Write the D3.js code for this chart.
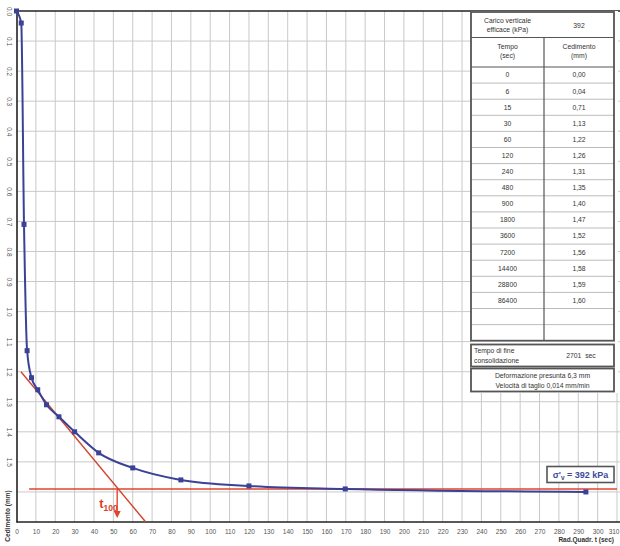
<!DOCTYPE html>
<html>
<head>
<meta charset="utf-8">
<script src="https://cdn.jsdelivr.net/npm/d3@7"></script>
<style>
  html, body { margin: 0; padding: 0; background: #fff; }
  svg { display: block; font-family: "Liberation Sans", Arial, sans-serif; }
</style>
</head>
<body>
<svg id="chart" width="620" height="546"></svg>
<script>
// Consolidation readings at 392 kPa: elapsed time (s) and settlement (mm)
const tempoSec = [0, 6, 15, 30, 60, 120, 240, 480, 900, 1800, 3600, 7200, 14400, 28800, 86400];
const cedimentoMm = [0.00, 0.04, 0.71, 1.13, 1.22, 1.26, 1.31, 1.35, 1.40, 1.47, 1.52, 1.56, 1.58, 1.59, 1.60];
const caricoKPa = 392;
const tFineSec = 2701;

// Construction lines (root-time abscissa, settlement ordinate)
const tangente = [[2.3, 1.20], [66.7, 1.70]];
const cedimentoFinale = 1.59;
const orizzontaleX = [6.5, 310];

// Axis ticks
const xTicks = d3.range(0, 311, 10);
const yTicks = d3.range(0, 1.71, 0.1).map(v => +v.toFixed(1));
const yLabelTicks = yTicks.filter(v => v <= 1.5);

const svg = d3.select("#chart");
const x = d3.scaleLinear().domain([0, 310]).range([16.5, 617]);
const y = d3.scaleLinear().domain([0, 1.7]).range([11, 522]);

const blu = "#3b4196";
const rosso = "#e0452b";

// grid
svg.append("g").selectAll("line").data(xTicks.filter(d => d > 0)).join("line")
  .attr("x1", d => x(d)).attr("x2", d => x(d)).attr("y1", y(0)).attr("y2", y(1.7))
  .attr("stroke", "#c9c9c9").attr("stroke-width", 1);
svg.append("g").selectAll("line").data(yTicks.filter(d => d > 0 && d < 1.7)).join("line")
  .attr("x1", x(0)).attr("x2", 620).attr("y1", d => y(d)).attr("y2", d => y(d))
  .attr("stroke", "#c9c9c9").attr("stroke-width", 1);

// x axis
const xAxis = svg.append("g").attr("transform", `translate(0,${y(1.7)})`)
  .call(d3.axisBottom(x).tickValues(xTicks).tickSize(0).tickPadding(7).tickFormat(d3.format("d")));
xAxis.select(".domain").attr("stroke", "#222").attr("stroke-width", 1.6).attr("d", `M${x(0)},0H620`);
xAxis.selectAll("text").attr("font-size", 6.5).attr("fill", "#555").attr("font-family", "Liberation Sans, Arial, sans-serif");
// keep the last label inside the page edge
xAxis.selectAll(".tick").filter(d => d === 310).select("text")
  .attr("text-anchor", "end").attr("x", 619 - x(310));

// y axis with rotated labels
const yAxis = svg.append("g").attr("transform", `translate(${x(0)},0)`)
  .call(d3.axisLeft(y).tickValues(yLabelTicks).tickSize(0).tickPadding(0).tickFormat(d3.format(".1f")));
yAxis.select(".domain").attr("stroke", "#222").attr("stroke-width", 1.6);
yAxis.selectAll("text")
  .attr("font-size", 6.5).attr("fill", "#555").attr("font-family", "Liberation Sans, Arial, sans-serif")
  .attr("x", 0).attr("dy", 0).attr("text-anchor", "middle")
  .attr("transform", `translate(-9.5,0) rotate(90)`);

// top frame
svg.append("line").attr("x1", x(0)).attr("x2", 620).attr("y1", y(0)).attr("y2", y(0))
  .attr("stroke", "#222").attr("stroke-width", 1.6);

// axis titles
svg.append("text").attr("transform", `translate(9.5,516) rotate(-90)`)
  .attr("text-anchor", "middle").attr("font-size", 6.5).attr("font-weight", "bold").attr("fill", "#333")
  .text("Cedimento (mm)");
svg.append("text").attr("x", 614).attr("y", 542).attr("text-anchor", "end")
  .attr("font-size", 6.5).attr("font-weight", "bold").attr("fill", "#333")
  .text("Rad.Quadr. t (sec)");

// construction lines
svg.append("line")
  .attr("x1", x(orizzontaleX[0])).attr("x2", x(orizzontaleX[1]))
  .attr("y1", y(cedimentoFinale)).attr("y2", y(cedimentoFinale))
  .attr("stroke", rosso).attr("stroke-width", 1.6);
svg.append("line")
  .attr("x1", x(tangente[0][0])).attr("y1", y(tangente[0][1]))
  .attr("x2", x(tangente[1][0])).attr("y2", y(tangente[1][1]))
  .attr("stroke", "#d0452e").attr("stroke-width", 1.4);

// consolidation curve
const punti = tempoSec.map((t, i) => [Math.sqrt(t), cedimentoMm[i]]);
svg.append("path").datum(punti)
  .attr("d", d3.line().x(d => x(d[0])).y(d => y(d[1])).curve(d3.curveMonotoneX))
  .attr("fill", "none").attr("stroke", blu).attr("stroke-width", 2);
svg.append("g").selectAll("rect").data(punti).join("rect")
  .attr("x", d => x(d[0]) - 2.5).attr("y", d => y(d[1]) - 2.5)
  .attr("width", 5).attr("height", 5).attr("fill", blu);

// t100 marker
const t100x = Math.sqrt(tFineSec);
svg.append("line").attr("x1", x(t100x)).attr("x2", x(t100x))
  .attr("y1", y(cedimentoFinale)).attr("y2", y(1.668))
  .attr("stroke", rosso).attr("stroke-width", 1.4);
svg.append("path")
  .attr("d", `M${x(t100x) - 3.5},${y(1.663)}L${x(t100x) + 3.5},${y(1.663)}L${x(t100x)},${y(1.687)}Z`)
  .attr("fill", rosso);
const tl = svg.append("text").attr("x", x(t100x) - 18).attr("y", 508)
  .attr("fill", "#d9402b").attr("font-weight", "bold").attr("font-size", 13).text("t");
tl.append("tspan").attr("font-size", 8.5).attr("dy", 3).text("100");

// data table
const tx0 = 471, tx1 = 614, tcol = 544;
const rowTop = 67, rowH = 16.1, nRows = tempoSec.length + 2;
const tableBottom = rowTop + rowH * nRows;
const fmt = v => d3.format(".2f")(v).replace(".", ",");
const txtCol = "#333";

svg.append("rect").attr("x", tx0).attr("y", 11).attr("width", tx1 - tx0 + 4).attr("height", 382).attr("fill", "#fff");
const tb = svg.append("g").attr("font-size", 6.8).attr("fill", txtCol).attr("text-anchor", "middle");

// data row lines
tb.selectAll("line.r").data(d3.range(1, nRows)).join("line")
  .attr("x1", tx0).attr("x2", tx1)
  .attr("y1", i => rowTop + i * rowH).attr("y2", i => rowTop + i * rowH)
  .attr("stroke", "#bcbcbc").attr("stroke-width", 1);
tb.append("line").attr("x1", tcol).attr("x2", tcol).attr("y1", 37.5).attr("y2", tableBottom)
  .attr("stroke", "#555").attr("stroke-width", 1.2);
tb.append("line").attr("x1", tx0).attr("x2", tx1).attr("y1", 37.5).attr("y2", 37.5)
  .attr("stroke", "#555").attr("stroke-width", 1.2);
tb.append("line").attr("x1", tx0).attr("x2", tx1).attr("y1", rowTop).attr("y2", rowTop)
  .attr("stroke", "#555").attr("stroke-width", 1.2);
tb.append("rect").attr("x", tx0).attr("y", 12).attr("width", tx1 - tx0).attr("height", tableBottom - 12)
  .attr("fill", "none").attr("stroke", "#555").attr("stroke-width", 1.8);

// header
const colL = (tx0 + tcol) / 2, colR = (tcol + tx1) / 2;
tb.append("text").attr("x", colL).attr("y", 23).text("Carico verticale");
tb.append("text").attr("x", colL).attr("y", 32).text("efficace (kPa)");
tb.append("text").attr("x", colR).attr("y", 28).text(caricoKPa);
tb.append("text").attr("x", colL).attr("y", 49).text("Tempo");
tb.append("text").attr("x", colL).attr("y", 58).text("(sec)");
tb.append("text").attr("x", colR).attr("y", 49).text("Cedimento");
tb.append("text").attr("x", colR).attr("y", 58).text("(mm)");

// rows
tb.selectAll("text.t").data(tempoSec).join("text").attr("class", "t")
  .attr("x", colL).attr("y", (d, i) => rowTop + i * rowH + rowH / 2 + 2.4).text(d => d);
tb.selectAll("text.c").data(cedimentoMm).join("text").attr("class", "c")
  .attr("x", colR).attr("y", (d, i) => rowTop + i * rowH + rowH / 2 + 2.4).text(d => fmt(d));

// end of consolidation box
tb.append("rect").attr("x", tx0).attr("y", 344.5).attr("width", tx1 - tx0).attr("height", 22)
  .attr("fill", "#fff").attr("stroke", "#555").attr("stroke-width", 1.8);
tb.append("text").attr("x", tx0 + 3).attr("y", 353).attr("text-anchor", "start").text("Tempo di fine");
tb.append("text").attr("x", tx0 + 3).attr("y", 362.5).attr("text-anchor", "start").text("consolidazione");
tb.append("text").attr("x", 581).attr("y", 358).text(`${tFineSec}  sec`).attr("xml:space", "preserve");

tb.append("rect").attr("x", tx0).attr("y", 368.5).attr("width", tx1 - tx0).attr("height", 23)
  .attr("fill", "#fff").attr("stroke", "#555").attr("stroke-width", 1.8);
tb.append("text").attr("x", (tx0 + tx1) / 2).attr("y", 378).text("Deformazione presunta 6,3 mm");
tb.append("text").attr("x", (tx0 + tx1) / 2).attr("y", 387.5).text("Velocità di taglio 0,014 mm/min");

// effective stress tag
const tag = svg.append("g");
tag.append("rect").attr("x", 547).attr("y", 466.5).attr("width", 67).attr("height", 16)
  .attr("fill", "#fff").attr("stroke", "#555").attr("stroke-width", 1.6);
const st = tag.append("text").attr("x", 580.5).attr("y", 478).attr("text-anchor", "middle")
  .attr("font-size", 9).attr("font-weight", "bold").attr("fill", "#3d4a9c");
st.append("tspan").text("σ'");
st.append("tspan").attr("font-size", 6.5).attr("dy", 2).text("v");
st.append("tspan").attr("dy", -2).text(` = ${caricoKPa} kPa`);
</script>
</body>
</html>
